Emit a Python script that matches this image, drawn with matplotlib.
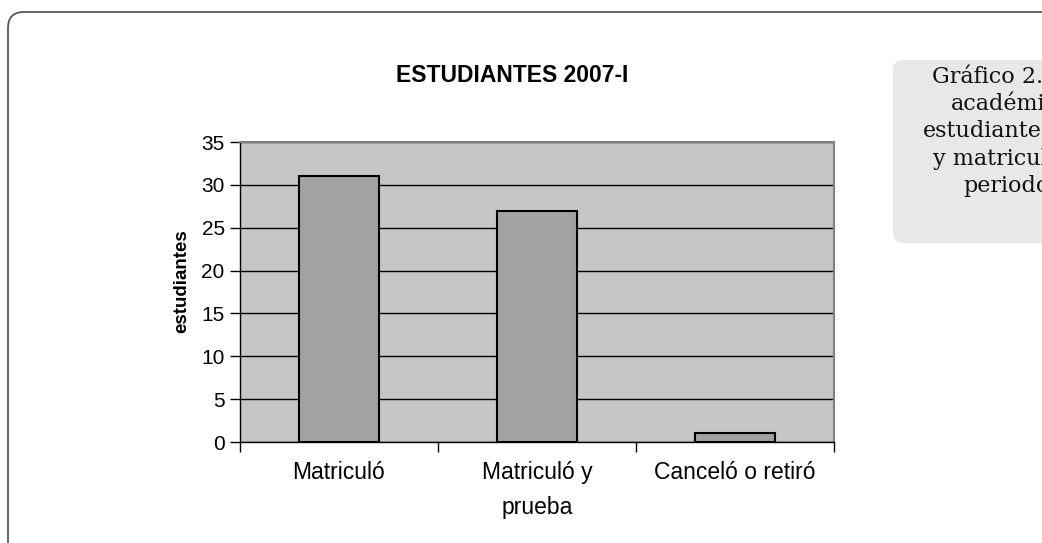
import numpy as np
import matplotlib
matplotlib.use("Agg")
import matplotlib.pyplot as plt
from matplotlib.patches import FancyBboxPatch
from matplotlib.transforms import IdentityTransform

# data
categories = ["Matriculó", "Matriculó y\nprueba", "Canceló o retiró"]
values = [31, 27, 1]
y_ticks = [0, 5, 10, 15, 20, 25, 30, 35]

# side caption (cut off at the right edge in the original page)
caption_lines = ["Gráfico 2.2", "académica", "estudiantes", "y matriculados", "periodo"]
caption_x = [932, 951, 923, 933, 963]


def main():
    plt.rcParams["font.family"] = ["Liberation Sans", "DejaVu Sans"]

    fig = plt.figure(figsize=(10.42, 5.43), dpi=100)
    W, H = 1042, 543

    # outer rounded frame of the page box
    frame = FancyBboxPatch((8, -40), 1100, H - 12 + 40,
                           boxstyle="round,pad=0,rounding_size=16",
                           fc="none", ec="#555555", lw=1.3,
                           transform=IdentityTransform())
    fig.patches.append(frame)

    # grey caption box on the right
    cap_box = FancyBboxPatch((893, H - 243), 200, 183,
                             boxstyle="round,pad=0,rounding_size=10",
                             fc="#e8e8e8", ec="none",
                             transform=IdentityTransform())
    fig.patches.append(cap_box)
    for i, (line, x0) in enumerate(zip(caption_lines, caption_x)):
        fig.text(x0 / W, 1 - (77 + 27.2 * i) / H, line, ha="left", va="center",
                 fontsize=16, family="DejaVu Serif", color="#111111")

    ax = fig.add_axes([240 / W, (H - 442) / H, 594 / W, 300 / H])
    ax.set_facecolor("#c6c6c6")

    x = np.arange(len(categories))
    ax.bar(x, values, width=0.4, color="#a2a2a2", edgecolor="black",
           linewidth=1.5, zorder=3)

    ax.set_xlim(-0.5, len(categories) - 0.5)
    ax.set_ylim(0, 35)
    ax.set_yticks(y_ticks)
    ax.yaxis.grid(True, color="black", linewidth=1.0, zorder=1)
    ax.set_axisbelow(True)

    ax.set_xticks(x)
    ax.set_xticklabels(categories, linespacing=1.65, va="top")
    ax.set_xticks(np.arange(len(categories) + 1) - 0.5, minor=True)
    ax.tick_params(axis="x", which="major", length=0, pad=14, labelsize=16.5)
    ax.tick_params(axis="x", which="minor", length=7, width=1, direction="out")
    ax.tick_params(axis="y", length=7, width=1, direction="out", pad=4,
                   labelsize=15)

    for side in ["top", "right"]:
        ax.spines[side].set_color("#808080")
        ax.spines[side].set_linewidth(1.5)
    for side in ["left", "bottom"]:
        ax.spines[side].set_color("black")
        ax.spines[side].set_linewidth(1.0)

    fig.text(182 / W, 1 - 281 / H, "estudiantes", rotation=90, ha="center",
             va="center", fontsize=13.5, fontweight="bold")
    fig.text(512 / W, 1 - 76 / H, "ESTUDIANTES 2007-I", ha="center",
             va="center", fontsize=16.5, fontweight="bold")

    fig.savefig("out.png", dpi=100)


if __name__ == "__main__":
    main()
